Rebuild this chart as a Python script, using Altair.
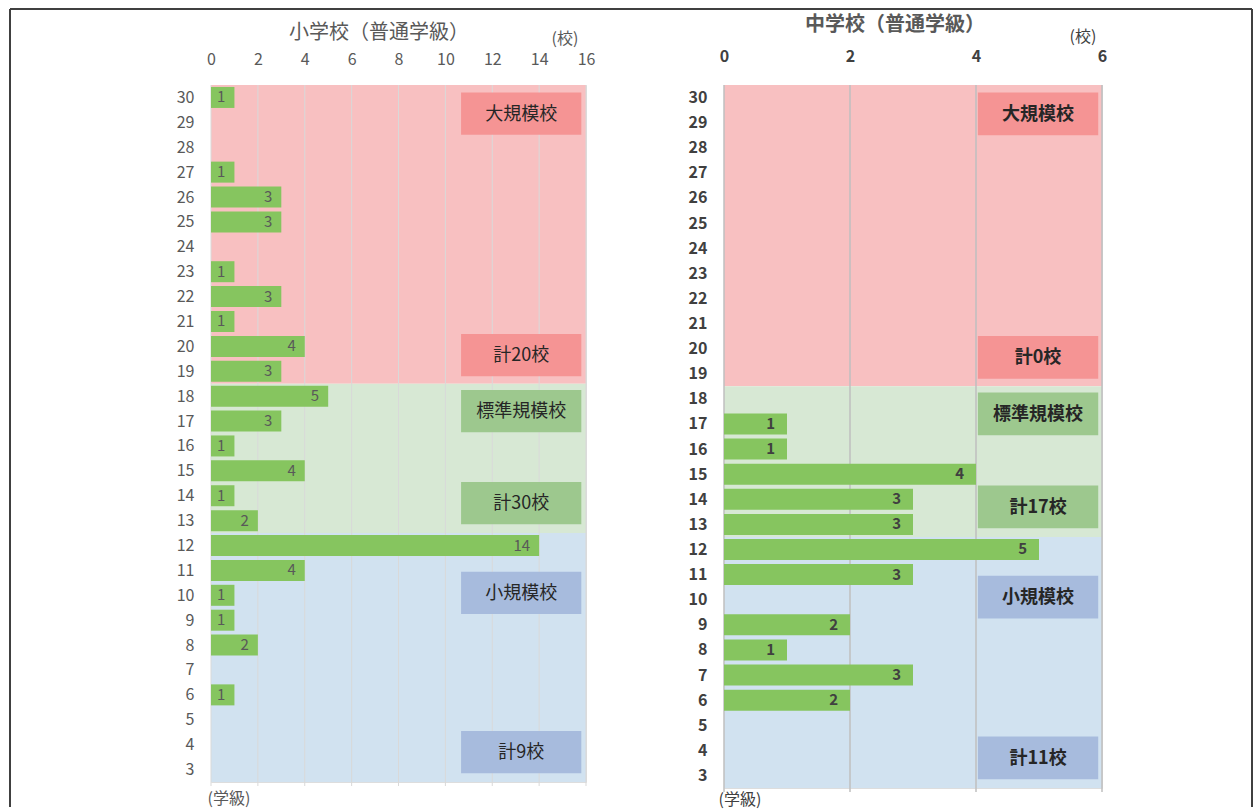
import altair as alt
import pandas as pd

# ---- data -------------------------------------------------------------
classes = list(range(30, 2, -1))  # 30 ... 3 (学級)
elem_counts = [1, 0, 0, 1, 3, 3, 0, 1, 3, 1, 4, 3,
               5, 3, 1, 4, 1, 2,
               14, 4, 1, 1, 2, 0, 1, 0, 0, 0]
junior_counts = [0, 0, 0, 0, 0, 0, 0, 0, 0, 0, 0, 0,
                 0, 1, 1, 4, 3, 3,
                 5, 3, 0, 2, 1, 3, 2, 0, 0, 0]
elem_ticks = [0, 2, 4, 6, 8, 10, 12, 14, 16]
junior_ticks = [0, 2, 4, 6]

band_lo = [18.5, 12.5, 2.5]
band_hi = [30.5, 18.5, 12.5]
band_colors = ["#F8C0C1", "#D7E8D4", "#D1E2F0"]

elem_box_labels = ["大規模校", "計20校", "標準規模校", "計30校", "小規模校", "計9校"]
junior_box_labels = ["大規模校", "計0校", "標準規模校", "計17校", "小規模校", "計11校"]
box_top = [30.2, 20.5, 18.25, 14.55, 10.95, 4.55]
box_bot = [28.5, 18.8, 16.55, 12.85, 9.25, 2.85]
box_colors = ["#F59494", "#F59494", "#9DC88E", "#9DC88E", "#A7BBDD", "#A7BBDD"]
elem_box_x = [10.67, 15.8]
junior_box_x = [4.03, 5.94]

FONT = "Noto Sans CJK JP"
GREEN = "#86C55F"


def panel(title, counts, xmax, ticks, box_labels, box_x, width, height,
          weight, txt_color, label_size, grid_color, grid_w, lab_pad_x,
          title_pos, bar_dx, unit_pos, cls_pos, frame=False):
    xscale = alt.Scale(domain=[0, xmax], nice=False, zero=False, padding=0)
    yscale = alt.Scale(domain=[2.5, 30.5], nice=False, zero=False, padding=0)

    bands = pd.DataFrame({"lo": band_lo, "hi": band_hi, "col": band_colors})
    grid = pd.DataFrame({"t": ticks})
    bars = pd.DataFrame({"c": classes, "n": counts})
    boxes = pd.DataFrame({"lab": box_labels, "top": box_top, "bot": box_bot,
                          "col": box_colors,
                          "x0": [box_x[0]] * len(box_labels),
                          "x1": [box_x[1]] * len(box_labels)})
    one = pd.DataFrame({"k": [0]})

    yaxis = alt.Axis(values=classes, title=None, domain=False, ticks=False,
                     grid=False, labelPadding=17, labelFont=FONT,
                     labelFontSize=label_size, labelColor=txt_color,
                     labelFontWeight=weight, labelOverlap=False)
    xaxis = alt.Axis(values=ticks, orient="top", title=None, domain=False,
                     ticks=False, grid=False, labelPadding=lab_pad_x,
                     labelFont=FONT, labelFontSize=label_size,
                     labelColor=txt_color, labelFontWeight=weight,
                     labelFlush=False, labelOverlap=False, format="d")

    band_layer = alt.Chart(bands).mark_rect().encode(
        x=alt.value(0), x2=alt.value(width),
        y=alt.Y("lo:Q", scale=yscale, axis=yaxis), y2="hi:Q",
        color=alt.Color("col:N", scale=None))

    grid_layer = alt.Chart(grid).mark_rule(color=grid_color, strokeWidth=grid_w).encode(
        x=alt.X("t:Q", scale=xscale, axis=xaxis),
        y=alt.value(0), y2=alt.value(height + 4))

    bar_layer = alt.Chart(bars).transform_filter("datum.n > 0").mark_bar(
        orient="horizontal", size=21, color=GREEN).encode(
        x=alt.X("n:Q", scale=xscale, axis=xaxis),
        y=alt.Y("c:Q", scale=yscale, axis=yaxis))

    bar_text = alt.Chart(bars).transform_filter("datum.n > 0").mark_text(
        align="right", baseline="middle", dx=bar_dx, font=FONT,
        fontSize=label_size - 1, fontWeight=weight, color=txt_color).encode(
        x=alt.X("n:Q", scale=xscale, axis=xaxis),
        y=alt.Y("c:Q", scale=yscale, axis=yaxis),
        text="n:Q")

    box_layer = alt.Chart(boxes).mark_rect().encode(
        x=alt.X("x0:Q", scale=xscale, axis=xaxis), x2="x1:Q",
        y=alt.Y("top:Q", scale=yscale, axis=yaxis), y2="bot:Q",
        color=alt.Color("col:N", scale=None))

    box_text = alt.Chart(boxes).transform_calculate(
        xm="(datum.x0 + datum.x1) / 2", ym="(datum.top + datum.bot) / 2"
    ).mark_text(font=FONT, fontSize=18, fontWeight=weight, color="#262626",
                baseline="middle", dy=1).encode(
        x=alt.X("xm:Q", scale=xscale, axis=xaxis),
        y=alt.Y("ym:Q", scale=yscale, axis=yaxis),
        text="lab:N")

    title_text = alt.Chart(one).mark_text(
        text=title, font=FONT, fontSize=20, color="#595959",
        baseline="middle", fontWeight=weight).encode(
        x=alt.value(title_pos[0]), y=alt.value(title_pos[1]))
    unit_text = alt.Chart(one).mark_text(
        text="(校)", font=FONT, fontSize=16, color=txt_color,
        baseline="middle", fontWeight="normal").encode(
        x=alt.value(unit_pos[0]), y=alt.value(unit_pos[1]))
    cls_text = alt.Chart(one).mark_text(
        text="(学級)", font=FONT, fontSize=16, color=txt_color,
        baseline="middle", fontWeight="normal").encode(
        x=alt.value(cls_pos[0]), y=alt.value(cls_pos[1]))

    layers = [band_layer, grid_layer, bar_layer, bar_text, box_layer,
              box_text, title_text, unit_text, cls_text]

    if frame:
        layers.append(alt.Chart(one).mark_rule(color="#404040", strokeWidth=2).encode(
            x=alt.value(-201), y=alt.value(-76), y2=alt.value(722)))
        layers.append(alt.Chart(one).mark_rule(color="#404040", strokeWidth=2).encode(
            x=alt.value(-201), x2=alt.value(1041), y=alt.value(-76)))
        layers.append(alt.Chart(one).mark_rule(color="#404040", strokeWidth=2).encode(
            x=alt.value(1041), y=alt.value(-76), y2=alt.value(722)))

    return alt.layer(*layers).properties(width=width, height=height)


left = panel("小学校（普通学級）", elem_counts, 16, elem_ticks, elem_box_labels,
             elem_box_x, 375, 697, "normal", "#595959", 16, "#D9D9D9", 1,
             18, (168, -52), -9, (354, -46), (18, 714), frame=True)
right = panel("中学校（普通学級）", junior_counts, 6, junior_ticks, junior_box_labels,
              junior_box_x, 378, 703, "bold", "#404040", 16, "#BFBFBF", 1.5,
              21, (171, -60), -12, (359, -48), (16, 715))

chart = alt.hconcat(left, right, spacing=138, bounds="flush").properties(
    padding={"left": 8, "top": 7, "right": 0, "bottom": 0}
).configure_view(stroke=None).configure(background="white")

chart.save("out.html", embed_options={"renderer": "svg", "actions": False})
